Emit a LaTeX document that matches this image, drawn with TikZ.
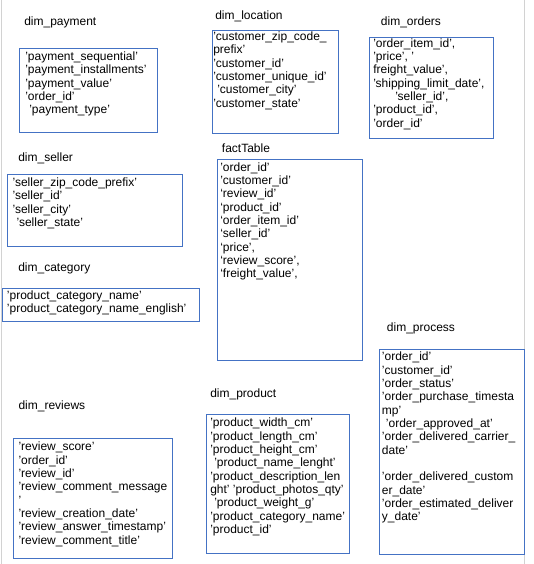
\documentclass[tikz,border=0pt]{standalone}
\usepackage{fontspec}
\setmainfont{Liberation Sans}
\begin{document}
\begin{tikzpicture}[x=0.75pt,y=-0.75pt,
  tablebox/.style={draw=boxblue,line width=0.7pt},
  tabletitle/.style={anchor=base west,inner sep=0pt,font=\fontsize{9pt}{10pt}\selectfont},
  fields/.style={anchor=north west,inner sep=0pt,align=left,
    font=\fontsize{9pt}{10pt}\selectfont,
    execute at begin node={\rule{0pt}{7pt}}},
  pageedge/.style={draw=edgegrey,line width=1pt}]
\definecolor{boxblue}{RGB}{68,114,196}
\definecolor{edgegrey}{RGB}{210,210,210}
\useasboundingbox[fill=white] (0,0) rectangle (533,564);
% page margins
\draw[pageedge] (1.5,0) -- (1.5,564);
\draw[pageedge] (524.5,0) -- (524.5,564);

% dim_payment
\node[tabletitle] (tpayment) at (24,26) {dim\_payment};
\draw[tablebox] (19,48) rectangle (157,132);
\node[fields] (fpayment) at (25,51.7) {'payment\_sequential'\\'payment\_installments'\\'payment\_value'\\'order\_id'\\\hspace*{3pt}'payment\_type'};

% dim_location
\node[tabletitle] (tlocation) at (215,19) {dim\_location};
\draw[tablebox] (212,30) rectangle (338,133);
\node[fields] (flocation) at (213,31.7) {'customer\_zip\_code\_\\prefix'\\'customer\_id'\\'customer\_unique\_id'\\\hspace*{3pt}'customer\_city'\\'customer\_state'};

% dim_orders
\node[tabletitle] (torders) at (380.7,26) {dim\_orders};
\draw[tablebox] (369,37) rectangle (493,138);
\node[fields] (forders) at (373,38.2) {'order\_item\_id',\\'price', '\\freight\_value',\\'shipping\_limit\_date',\\\hspace*{16.5pt}'seller\_id',\\'product\_id',\\'order\_id'};

% dim_seller
\node[tabletitle] (tseller) at (18,161.5) {dim\_seller};
\draw[tablebox] (7,174) rectangle (182,246);
\node[fields] (fseller) at (12.3,177.7) {'seller\_zip\_code\_prefix'\\'seller\_id'\\'seller\_city'\\\hspace*{3pt}'seller\_state'};

% dim_category
\node[tabletitle] (tcategory) at (18,271) {dim\_category};
\draw[tablebox] (2,288) rectangle (199,321);
\node[fields] (fcategory) at (6.7,290.7) {'product\_category\_name'\\'product\_category\_name\_english'};

% factTable
\node[tabletitle] (tfact) at (221.7,152) {factTable};
\draw[tablebox] (217,159) rectangle (362,360);
\node[fields] (ffact) at (220,162.2) {'order\_id'\\'customer\_id'\\‘review\_id'\\‘product\_id'\\‘order\_item\_id'\\‘seller\_id'\\‘price',\\‘review\_score',\\‘freight\_value',};

% dim_process
\node[tabletitle] (tprocess) at (386.7,331) {dim\_process};
\draw[tablebox] (379,349) rectangle (524,554);
\node[fields] (fprocess) at (381.7,351.7) {'order\_id'\\'customer\_id'\\'order\_status'\\'order\_purchase\_timesta\\mp'\\\hspace*{3pt}'order\_approved\_at'\\'order\_delivered\_carrier\_\\date'\\[10pt]'order\_delivered\_custom\\er\_date'\\'order\_estimated\_deliver\\y\_date'};

% dim_reviews
\node[tabletitle] (treviews) at (18.3,409) {dim\_reviews};
\draw[tablebox] (13,438) rectangle (172,558);
\node[fields] (freviews) at (18.3,441.7) {'review\_score'\\'order\_id'\\'review\_id'\\'review\_comment\_message\\'\\'review\_creation\_date'\\'review\_answer\_timestamp'\\'review\_comment\_title'};

% dim_product
\node[tabletitle] (tproduct) at (210,397.5) {dim\_product};
\draw[tablebox] (206,414) rectangle (349,553);
\node[fields] (fproduct) at (210,417.7) {'product\_width\_cm'\\'product\_length\_cm'\\'product\_height\_cm'\\\hspace*{3pt}'product\_name\_lenght'\\'product\_description\_len\\ght' 'product\_photos\_qty'\\\hspace*{3pt}'product\_weight\_g'\\'product\_category\_name'\\'product\_id'};
\end{tikzpicture}
\end{document}
